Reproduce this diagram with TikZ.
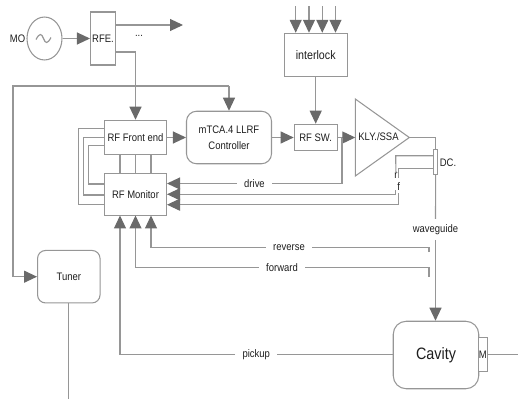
\documentclass[tikz,border=0pt]{standalone}
\usepackage{fontspec}
\setmainfont[FakeStretch=0.87]{Liberation Sans}
\usetikzlibrary{arrows.meta,shapes.geometric}
\definecolor{linegray}{HTML}{969696}
\definecolor{tipgray}{HTML}{6A6A6A}
\definecolor{inkgray}{HTML}{1E1E1E}

\begin{document}
\begin{tikzpicture}[x=0.02cm,y=-0.02cm,
    every node/.style={text=inkgray,font=\fontsize{6.2}{7.2}\selectfont,inner sep=0pt},
    box/.style={draw=linegray,line width=0.6pt,fill=white,align=center},
    lab/.style={inner xsep=4pt,inner ysep=1pt},
    link/.style={draw=linegray,line width=0.65pt},
    flow/.style={link,-{Triangle[length=0.26cm,width=0.24cm,color=tipgray]}}]
  \useasboundingbox (0,0) rectangle (518,399);
  % Source and distribution
  \node[box,ellipse,minimum width=0.70cm,minimum height=0.86cm] (mo) at (44.5,38.5) {};
  \node (molabel) at (17.5,38.5) {MO};
  \node[box,minimum width=0.50cm,minimum height=1.06cm] (rfe) at (103,38.5) {RFE.};
  \node (dots) at (139,36) {...};
  \coordinate (topout) at (183,25);
  \coordinate (rfetap) at (135.5,52);
  \draw[link] (36,39.5) .. controls (39.5,33) and (41.5,33) .. (43.5,38.5) .. controls (45.5,44) and (47.5,44) .. (51,37.5);
  \draw[flow] (mo) -- (rfe);
  \draw[flow] (rfe.east |- topout) -- (topout);
  % Controller row
  \node[box,minimum width=1.24cm,minimum height=0.69cm] (front) at (135.5,137.5) {RF Front end};
  \node[box,minimum width=1.24cm,minimum height=0.84cm] (monitor) at (135.5,194.5) {RF Monitor};
  \node[box,rounded corners=0.2cm,minimum width=1.70cm,minimum height=1.05cm] (llrf) at (229,137.5) {mTCA.4 LLRF\\[2pt]Controller};
  \node[box,minimum width=0.86cm,minimum height=0.53cm] (rfsw) at (315.7,137.5) {RF SW.};
  \node[box,minimum width=1.26cm,minimum height=0.86cm,font=\fontsize{7}{8}\selectfont] (interlock) at (315.7,54.8) {interlock};
  \draw[link,line width=0.6pt] (355.3,99) coordinate (klyup) -- (409.3,137.5) coordinate (klytip) -- (355.3,176) coordinate (klylow) -- cycle;
  \node (kly) at (378.5,137) {KLY./SSA};
  \node[box,minimum width=0.09cm,minimum height=0.50cm] (dc) at (435.7,161.8) {};
  \node (dclabel) at (448,162.5) {DC.};
  \coordinate (klyin) at (355.3,137.5);
  \draw[link] (rfetap -| rfe.east) -- (rfetap);
  \draw[flow] (rfetap) -- (front);
  \draw[flow] (front) -- (llrf);
  \draw[flow] (llrf) -- (rfsw);
  \draw[flow] (rfsw) -- (klyin);
  \draw[flow] (interlock) -- (rfsw);
  \foreach \px/\name in {295.7/a,309/b,322.3/c,335.5/d}{
    \coordinate (in\name) at (\px,6);
    \draw[flow] (in\name) -- (in\name |- interlock.north);
  }
  % Tuner loop
  \node[box,rounded corners=0.16cm,minimum width=1.25cm,minimum height=1.05cm] (tuner) at (68.8,276.7) {Tuner};
  \coordinate (loopleft) at (13,86);
  \coordinate (tunerout) at (68.8,399);
  \draw[flow] (llrf.north |- loopleft) -- (llrf.north);
  \draw[flow] (llrf.north |- loopleft) -- (loopleft) |- (tuner.west);
  \draw[link] (tuner) -- (tunerout);
  % Links between front end and monitor
  \foreach \px in {120,135.5,151}{
    \draw[link] (\px,154.5) -- (\px,173.5);
  }
  \foreach \px/\ya/\yb in {78.3/128.3/204.5,83.7/137.3/195,88.7/145.7/184}{
    \draw[link] (front.west |- 0,\ya) -- (\px,\ya) -- (\px,\yb) -- (monitor.west |- 0,\yb);
  }
  % Coupler outputs
  \node[lab] (drive) at (254.5,183.5) {drive};
  \node (rlabel) at (396,176) {r};
  \node (flabel) at (398.7,186.7) {f};
  \coordinate (swtap) at (342,137.5);
  \coordinate (rcorner) at (395.7,155.7);
  \coordinate (fcorner) at (398.7,168.3);
  \coordinate (rjoin) at (395.7,194.3);
  \coordinate (fjoin) at (398.7,204.7);
  \draw[link] (swtap) |- (drive);
  \draw[flow] (drive) -- (monitor.east |- drive);
  \draw[link] (dc.west |- rcorner) -- (rcorner) -- (rlabel);
  \draw[link] (dc.west |- fcorner) -- (fcorner) -- (398.7,178);
  \draw[link] (395.7,190) -- (rjoin);
  \draw[link] (398.7,193) -- (fjoin);
  \draw[flow] (rjoin) -- (monitor.east |- rjoin);
  \draw[flow] (fjoin) -- (monitor.east |- fjoin);
  \draw[link] (klytip) -| (dc.north);
  % Cavity and waveguide
  \node[box,rounded corners=0.26cm,minimum width=1.71cm,minimum height=1.35cm,font=\fontsize{9.4}{11}\selectfont] (cavity) at (436,355) {Cavity};
  \node[box,minimum width=0.17cm,minimum height=0.69cm] (probe) at (482.8,354.5) {M};
  \node[fill=white,inner xsep=1pt,inner ysep=3pt] (guide) at (435.5,229.5) {waveguide};
  \coordinate (probeout) at (518,354.5);
  \draw[link] (dc) -- (guide);
  \draw[flow] (guide) -- (cavity.north -| guide);
  \draw[link] (probe) -- (probeout);
  % Signals back to the monitor
  \node[lab] (reverse) at (289,247.7) {reverse};
  \node[lab] (forward) at (282,267.7) {forward};
  \node[lab] (pickup) at (256.3,354.7) {pickup};
  \coordinate (revend) at (429,252);
  \coordinate (forend) at (429,276.5);
  \draw[link] (revend) |- (reverse);
  \draw[link] (forend) |- (forward);
  \draw[flow] (reverse) -| (151,215.5);
  \draw[flow] (forward) -| (135.5,215.5);
  \draw[link] (cavity.west |- pickup) -- (pickup);
  \draw[flow] (pickup) -| (120,215.5);
\end{tikzpicture}
\end{document}
